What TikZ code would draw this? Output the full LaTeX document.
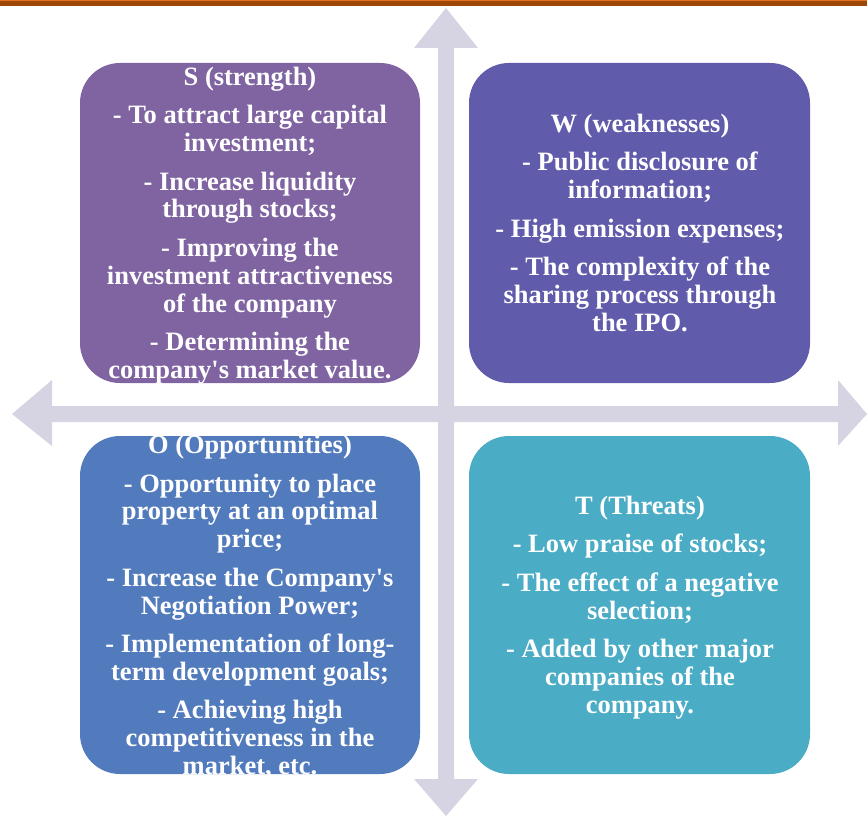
\documentclass[tikz,border=0pt]{standalone}
\usepackage{fontspec}
\setmainfont{Liberation Serif}
\definecolor{barbrown}{RGB}{158,72,8}
\definecolor{barorange}{RGB}{228,112,32}
\definecolor{crossgrey}{RGB}{214,211,227}
\definecolor{spurple}{RGB}{128,100,162}
\definecolor{windigo}{RGB}{96,91,171}
\definecolor{oblue}{RGB}{82,123,189}
\definecolor{tcyan}{RGB}{75,172,198}
\begin{document}
\begin{tikzpicture}[x=0.03cm,y=-0.03cm,
  swotbox/.style={align=center, text=white, inner sep=0pt,
    font=\bfseries\fontsize{22.6}{23.8}\selectfont}]
\useasboundingbox (0,0) rectangle (867,816);
% bar on top of the page
\fill[barbrown] (0,0) rectangle (867,6);
\fill[barorange] (0,0) rectangle (867,1.5);
% the cross of arrows behind the boxes
\fill[crossgrey] (438,48) -- (414,48) -- (446,8) -- (478,48) -- (454,48)
  -- (454,406) -- (838,406) -- (838,380) -- (867,414) -- (838,446) -- (838,422)
  -- (454,422) -- (454,779) -- (478,779) -- (446,816) -- (414,779) -- (438,779)
  -- (438,422) -- (52,422) -- (52,446) -- (12,414) -- (52,380) -- (52,406)
  -- (438,406) -- cycle;
% the four quadrants
\fill[spurple, rounded corners=1.2cm] (80,63) rectangle (420,383);
\fill[windigo, rounded corners=1.2cm] (469,63) rectangle (810,383);
\fill[oblue, rounded corners=1.2cm] (80,436) rectangle (420,774);
\fill[tcyan, rounded corners=1.2cm] (469,436) rectangle (810,774);
\node[swotbox] (s) at (250,225.5) {S (strength)\\[9pt]
  - To attract large capital\\investment;\\[9pt]
  - Increase liquidity\\through stocks;\\[9pt]
  - Improving the\\investment attractiveness\\of the company\\[9pt]
  - Determining the\\company\textquotesingle s market value.};
\node[swotbox] (w) at (640,223) {W (weaknesses)\\[9pt]
  - Public disclosure of\\information;\\[9pt]
  - High emission expenses;\\[9pt]
  - The complexity of the\\sharing process through\\the IPO.};
\node[swotbox] (o) at (250,607) {O (Opportunities)\\[9pt]
  - Opportunity to place\\property at an optimal\\price;\\[9pt]
  - Increase the Company\textquotesingle s\\Negotiation Power;\\[9pt]
  - Implementation of long-\\term development goals;\\[9pt]
  - Achieving high\\competitiveness in the\\market, etc.};
\node[swotbox] (t) at (640,607.5) {T (Threats)\\[9pt]
  - Low praise of stocks;\\[9pt]
  - The effect of a negative\\selection;\\[9pt]
  - Added by other major\\companies of the\\company.};
\end{tikzpicture}
\end{document}
